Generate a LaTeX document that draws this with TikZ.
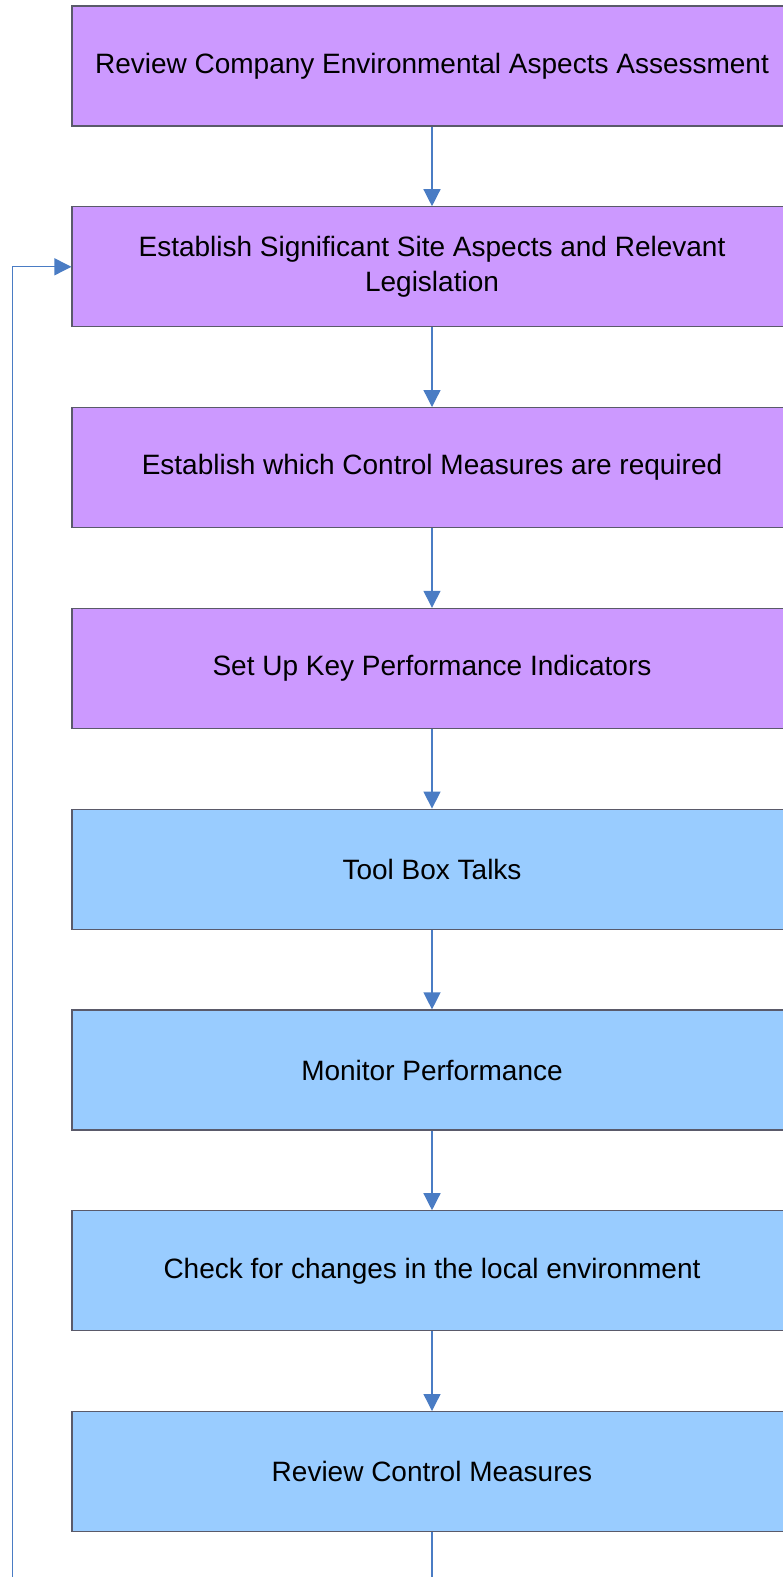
\documentclass[tikz,border=0pt]{standalone}
\usepackage{fontspec}
\setmainfont{Liberation Sans}
\usepackage{tikz}
\usetikzlibrary{positioning}
\usetikzlibrary{arrows.meta}
\definecolor{planfill}{HTML}{CC99FF}
\definecolor{dofill}{HTML}{99CCFF}
\definecolor{boxline}{HTML}{5A5A6A}
\definecolor{flowline}{HTML}{4A7CC4}
\tikzset{
  stage/.style={draw=boxline, line width=1.2pt, minimum width=720pt, minimum height=120pt,
    inner sep=0pt, align=center, font=\fontsize{28}{35}\selectfont},
  plan/.style={stage, fill=planfill},
  act/.style={stage, fill=dofill},
  flow/.style={draw=flowline, line width=1.3pt, -{Triangle[width=17pt,length=17pt]}}
}

\begin{document}
\begin{tikzpicture}[x=1pt, y=1pt, node distance=79.6pt]
    \clip (0,0) rectangle (783,-1577);
    \useasboundingbox (0,0) rectangle (783,-1577);
    % planning steps
    \node[plan] (review) at (432,-66) {Review Company Environmental Aspects Assessment};
    \node[plan, below=of review] (aspects) {Establish Significant Site Aspects and Relevant\\Legislation};
    \node[plan, below=of aspects] (controls) {Establish which Control Measures are required};
    \node[plan, below=of controls] (kpi) {Set Up Key Performance Indicators};
    % doing steps
    \node[act, below=of kpi] (toolbox) {Tool Box Talks};
    \node[act, below=of toolbox] (monitor) {Monitor Performance};
    \node[act, below=of monitor] (changes) {Check for changes in the local environment};
    \node[act, below=of changes] (revctrl) {Review Control Measures};
    % arrows
    \draw[flow] (review) -- (aspects);
    \draw[flow] (aspects) -- (controls);
    \draw[flow] (controls) -- (kpi);
    \draw[flow] (kpi) -- (toolbox);
    \draw[flow] (toolbox) -- (monitor);
    \draw[flow] (monitor) -- (changes);
    \draw[flow] (changes) -- (revctrl);
    % loop back
    \coordinate (back) at (12.5,-1620);
    \draw[flow] (revctrl.south) |- (back) |- (aspects.west);
\end{tikzpicture}
\end{document}
